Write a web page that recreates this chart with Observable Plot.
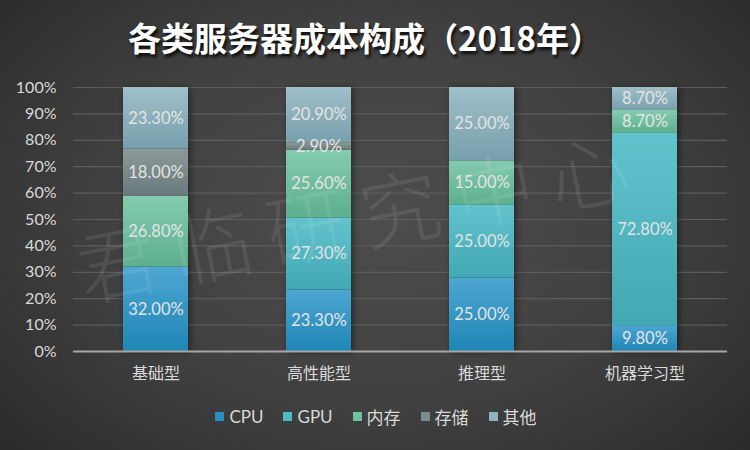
<!DOCTYPE html>
<html><head><meta charset="utf-8">
<script src="https://cdn.jsdelivr.net/npm/d3@7"></script>
<script src="https://cdn.jsdelivr.net/npm/@observablehq/plot@0.6"></script>
<style>
html,body{margin:0;padding:0;}
#wrap{position:relative;width:750px;height:450px;overflow:hidden;
 background:radial-gradient(ellipse 75% 85% at 50% 48%, #4d4d4d 0%, #404040 50%, #262626 100%);
 font-family:Lato,"Noto Sans CJK SC",sans-serif;}
#title{position:absolute;left:0;top:11px;width:730px;text-align:center;color:#fff;font-size:33px;font-weight:bold;
 font-family:"Noto Sans CJK SC",sans-serif;text-shadow:2px 3px 3px rgba(0,0,0,0.75);line-height:52px;}
#wm{position:absolute;left:360px;top:212px;transform:translate(-50%,-50%) rotate(-11deg);white-space:nowrap;
 font-family:"Noto Sans CJK SC",serif;font-weight:300;font-size:80px;letter-spacing:16px;color:rgba(255,255,255,0.085);pointer-events:none;}
#chart{position:absolute;left:0;top:60px;}
#legend{position:absolute;left:0;top:404px;width:750px;display:flex;justify-content:center;gap:20px;color:#d9d9d9;font-size:17px;padding-left:2px;box-sizing:border-box}
#legend span.item{display:flex;align-items:center;}
#legend span.sw{display:inline-block;width:9px;height:9px;margin-right:5px;}
</style></head>
<body><div id="wrap"><div id="title">各类服务器成本构成（2018年）</div><div id="chart"></div><div id="wm">君临研究中心</div><div id="legend"></div></div>
<script>
const categories = ["基础型", "高性能型", "推理型", "机器学习型"];
const seriesNames = ["CPU", "GPU", "内存", "存储", "其他"];
const cpu = [32.0, 23.3, 25.0, 9.8];
const gpu = [0, 27.3, 25.0, 72.8];
const memory = [26.8, 25.6, 15.0, 8.7];
const storage = [18.0, 2.9, 0, 0];
const other = [23.3, 20.9, 25.0, 8.7];
const yTicks = [0, 0.1, 0.2, 0.3, 0.4, 0.5, 0.6, 0.7, 0.8, 0.9, 1.0];

const seriesValues = [cpu, gpu, memory, storage, other];
const gradTop = ["#4ea6d2", "#62c3cd", "#84cbb0", "#8c9a9b", "#a0bfc9"];
const gradBot = ["#1f86b5", "#42a8b3", "#5daf8e", "#6a797b", "#77a0ad"];
const legendColors = ["#2a8fc0", "#4fb9c4", "#6fc0a0", "#7b8a8b", "#8fb3bf"];

const data = [];
categories.forEach((c, ci) => {
  seriesNames.forEach((s, si) => {
    const v = seriesValues[si][ci];
    if (v > 0) data.push({category: c, series: s, si, value: v});
  });
});

const stackOpts = {x: "category", y: "value", offset: "normalize"};
const plot = Plot.plot({
  width: 750, height: 335,
  marginTop: 27, marginBottom: 44, marginLeft: 73, marginRight: 23,
  style: {background: "transparent", color: "#d9d9d9", fontSize: "16px", fontFamily: "Lato, 'Noto Sans CJK SC', sans-serif"},
  x: {domain: categories, paddingInner: 0.6, paddingOuter: 0.3, tickSize: 0, tickPadding: 16, label: null},
  y: {domain: [0, 1], ticks: yTicks, tickFormat: d3.format(".0%"), tickSize: 0, tickPadding: 17, label: null},
  color: {type: "identity"},
  marks: [
    Plot.ruleY(yTicks.filter(d => d > 0), {stroke: "#5c5c5c", strokeWidth: 1.2}),
    Plot.barY(data, Plot.stackY({...stackOpts, fill: d => `url(#grad${d.si})`})),
    Plot.ruleY([0], {stroke: "#a6a6a6", strokeWidth: 2}),
    Plot.text(data, Plot.stackY({...stackOpts, text: d => d.value.toFixed(2) + "%", fill: "#e4e4e4", fontSize: 16.5}))
  ]
});

const ns = "http://www.w3.org/2000/svg";
const defs = document.createElementNS(ns, "defs");
gradTop.forEach((t, i) => {
  const g = document.createElementNS(ns, "linearGradient");
  g.setAttribute("id", "grad" + i);
  g.setAttribute("x1", "0"); g.setAttribute("y1", "0"); g.setAttribute("x2", "0"); g.setAttribute("y2", "1");
  const s1 = document.createElementNS(ns, "stop"); s1.setAttribute("offset", "0"); s1.setAttribute("stop-color", t);
  const s2 = document.createElementNS(ns, "stop"); s2.setAttribute("offset", "1"); s2.setAttribute("stop-color", gradBot[i]);
  g.appendChild(s1); g.appendChild(s2); defs.appendChild(g);
});
plot.insertBefore(defs, plot.firstChild);
plot.querySelectorAll('g[aria-label="bar"]').forEach(g => g.style.filter = "drop-shadow(2px 1px 3px rgba(0,0,0,0.45))");
document.getElementById("chart").appendChild(plot);

const legend = document.getElementById("legend");
seriesNames.forEach((s, i) => {
  const item = document.createElement("span"); item.className = "item";
  const sw = document.createElement("span"); sw.className = "sw"; sw.style.background = legendColors[i];
  item.appendChild(sw); item.appendChild(document.createTextNode(s));
  legend.appendChild(item);
});
</script></body></html>
